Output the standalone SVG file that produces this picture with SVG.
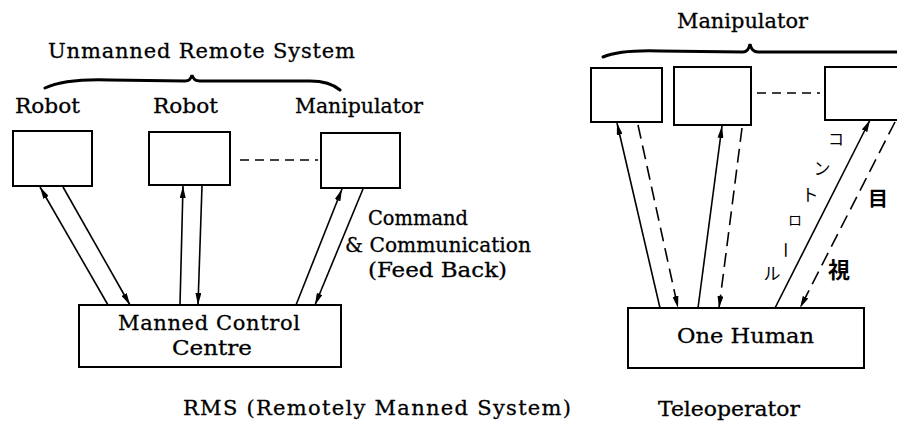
<svg xmlns="http://www.w3.org/2000/svg" width="897" height="430" viewBox="0 0 897 430">
  <defs>
    <marker id="arrow" viewBox="0 0 12 6" refX="12" refY="3" markerWidth="12" markerHeight="6" markerUnits="userSpaceOnUse" orient="auto">
      <path d="M0,0 L12,3 L0,6 Z" fill="#000"/>
    </marker>
    <style>
      .box { fill: #fff; stroke: #000; stroke-width: 2; }
      .brace { fill: none; stroke: #000; stroke-width: 3; stroke-linecap: round; }
      .link { fill: none; stroke: #000; stroke-width: 1.6; }
      .dash { stroke-dasharray: 14 7; }
      .sep { fill: none; stroke: #000; stroke-width: 1.6; stroke-dasharray: 9 6; }
      .t { font-size: 21px; fill: #000; stroke: #000; stroke-width: 0.3; }
      .jp { fill: #000; text-anchor: middle; }
    </style>
  </defs>
  <rect width="897" height="430" fill="#fff"/>

  <g font-family="DejaVu Serif">
  <!-- Remotely Manned System -->
  <text class="t" x="48" y="58" textLength="307" lengthAdjust="spacing">Unmanned Remote System</text>
  <path class="brace" d="M45,88 C60,81 80,79 110,80 L185,81 C189,81 191,79 192,75 C193,79 195,81 200,81 L310,81 C325,81 333,84 340,90"/>

  <g id="robot1">
    <text class="t" x="15" y="113" textLength="65" lengthAdjust="spacingAndGlyphs">Robot</text>
    <rect class="box" x="13" y="131" width="79" height="55"/>
  </g>
  <g id="robot2">
    <text class="t" x="153" y="113" textLength="65" lengthAdjust="spacingAndGlyphs">Robot</text>
    <rect class="box" x="149" y="132" width="81" height="53"/>
  </g>
  <g id="manipulator-rms">
    <text class="t" x="295" y="113" textLength="128" lengthAdjust="spacingAndGlyphs">Manipulator</text>
    <rect class="box" x="321" y="133" width="79" height="55"/>
  </g>
  <g id="control-centre">
    <rect class="box" x="79" y="305" width="262" height="62"/>
    <text class="t" x="118" y="330" textLength="182" lengthAdjust="spacing">Manned Control</text>
    <text class="t" x="172" y="355" textLength="80" lengthAdjust="spacingAndGlyphs">Centre</text>
  </g>

  <g id="rms-links">
    <line class="sep" x1="240" y1="160" x2="318" y2="160"/>
    <line class="link" x1="108" y1="305" x2="40" y2="187" marker-end="url(#arrow)"/>
    <line class="link" x1="63" y1="187" x2="130" y2="305" marker-end="url(#arrow)"/>
    <line class="link" x1="180" y1="305" x2="183" y2="186" marker-end="url(#arrow)"/>
    <line class="link" x1="202" y1="186" x2="198" y2="305" marker-end="url(#arrow)"/>
    <line class="link" x1="296" y1="305" x2="342" y2="189" marker-end="url(#arrow)"/>
    <line class="link" x1="363" y1="189" x2="315" y2="305" marker-end="url(#arrow)"/>
  </g>

  <g id="link-label">
    <text class="t" x="368" y="225" textLength="100" lengthAdjust="spacingAndGlyphs">Command</text>
    <text class="t" x="345" y="252" textLength="186" lengthAdjust="spacingAndGlyphs">&amp; Communication</text>
    <text class="t" x="368" y="277" textLength="139" lengthAdjust="spacingAndGlyphs">(Feed Back)</text>
  </g>

  <text class="t" x="183" y="415" textLength="388" lengthAdjust="spacing">RMS (Remotely Manned System)</text>

  <!-- Teleoperator -->
  <text class="t" x="677" y="28" textLength="131" lengthAdjust="spacingAndGlyphs">Manipulator</text>
  <path class="brace" d="M603,57 C615,52 630,50 660,51 L743,52 C747,52 749,49 750,44 C751,49 753,52 758,52 L900,52"/>

  <g id="manip-a">
    <rect class="box" x="591" y="68" width="71" height="54"/>
  </g>
  <g id="manip-b">
    <rect class="box" x="674" y="67" width="77" height="58"/>
  </g>
  <g id="manip-c">
    <rect class="box" x="825" y="67" width="80" height="53"/>
  </g>
  <g id="one-human">
    <rect class="box" x="628" y="308" width="236" height="60"/>
    <text class="t" x="677" y="343" textLength="137" lengthAdjust="spacingAndGlyphs">One Human</text>
  </g>

  <g id="teleop-links">
    <line class="sep" x1="757" y1="93" x2="820" y2="93"/>
    <line class="link" x1="660" y1="308" x2="617" y2="123" marker-end="url(#arrow)"/>
    <line class="link dash" x1="638" y1="125" x2="678" y2="308" marker-end="url(#arrow)"/>
    <line class="link" x1="698" y1="308" x2="722" y2="126" marker-end="url(#arrow)"/>
    <line class="link dash" x1="742" y1="128" x2="719" y2="308" marker-end="url(#arrow)"/>
    <line class="link" x1="775" y1="308" x2="870" y2="120" marker-end="url(#arrow)"/>
    <line class="link dash" x1="895" y1="122" x2="800" y2="308" marker-end="url(#arrow)"/>
  </g>

  <text class="t" x="658" y="416" textLength="142" lengthAdjust="spacingAndGlyphs">Teleoperator</text>
  </g>

  <g id="teleop-labels" font-family="Noto Sans CJK JP">
    <text class="jp" x="836" y="145" font-size="16">コ</text>
    <text class="jp" x="822" y="175" font-size="17">ン</text>
    <text class="jp" x="810" y="201" font-size="17">ト</text>
    <text class="jp" x="795" y="225" font-size="14">ロ</text>
    <text class="jp" transform="translate(785,250) rotate(90)" x="0" y="6" font-size="17">ー</text>
    <text class="jp" x="772" y="280" font-size="17">ル</text>
    <text class="jp" x="878" y="206" font-size="20" font-weight="bold">目</text>
    <text class="jp" x="839" y="278" font-size="22" font-weight="bold">視</text>
  </g>
</svg>
